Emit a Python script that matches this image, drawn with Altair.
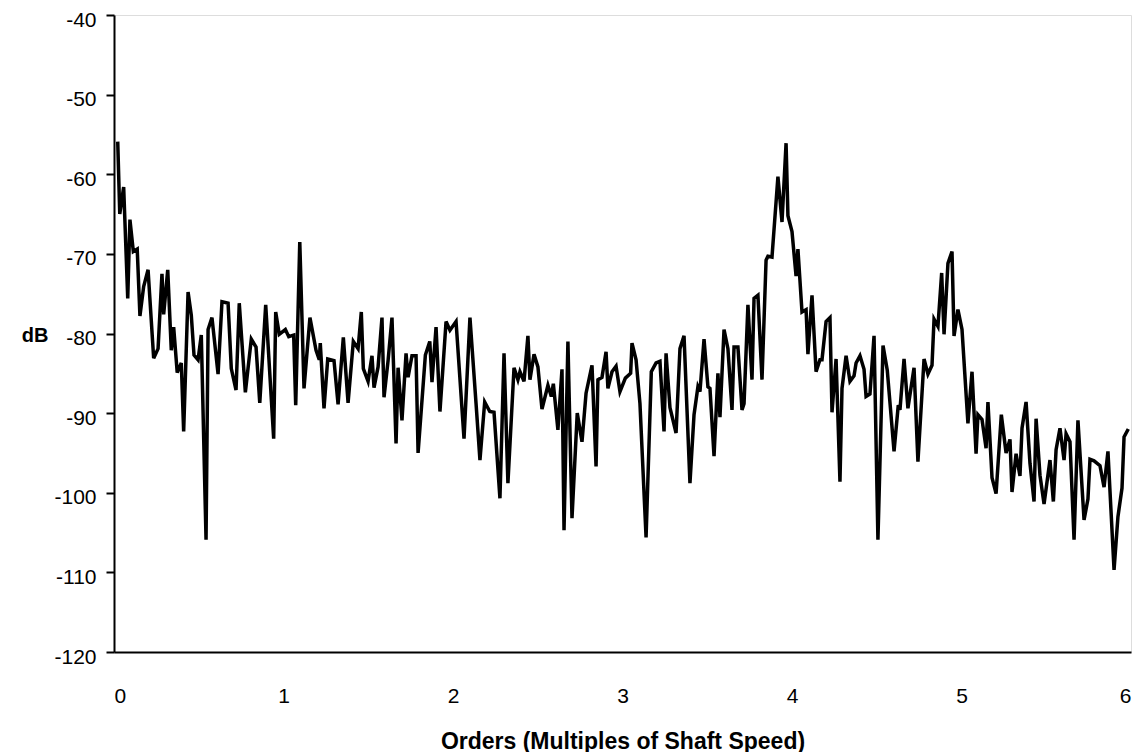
import altair as alt
import pandas as pd

orders = [
    0.022, 0.034, 0.057, 0.081, 0.094, 0.114, 0.137, 0.153, 0.175, 0.201,
    0.234, 0.260, 0.283, 0.293, 0.317, 0.338, 0.352, 0.373, 0.397, 0.411,
    0.437, 0.456, 0.472, 0.496, 0.515, 0.543, 0.555, 0.578, 0.614, 0.637,
    0.673, 0.692, 0.720, 0.739, 0.775, 0.810, 0.838, 0.860, 0.895, 0.942,
    0.954, 0.975, 1.011, 1.031, 1.060, 1.072, 1.096, 1.121, 1.156, 1.192,
    1.211, 1.217, 1.239, 1.261, 1.298, 1.322, 1.353, 1.381, 1.412, 1.440,
    1.459, 1.471, 1.499, 1.522, 1.534, 1.558, 1.581, 1.593, 1.617, 1.640,
    1.664, 1.676, 1.699, 1.723, 1.735, 1.758, 1.782, 1.794, 1.837, 1.863,
    1.876, 1.900, 1.923, 1.959, 1.982, 2.018, 2.065, 2.100, 2.136, 2.159,
    2.187, 2.217, 2.242, 2.277, 2.301, 2.324, 2.360, 2.383, 2.395, 2.419,
    2.442, 2.454, 2.478, 2.501, 2.525, 2.560, 2.580, 2.592, 2.619, 2.643,
    2.655, 2.678, 2.702, 2.733, 2.761, 2.785, 2.820, 2.844, 2.855, 2.879,
    2.903, 2.914, 2.938, 2.962, 2.985, 3.017, 3.048, 3.056, 3.080, 3.103,
    3.139, 3.170, 3.198, 3.221, 3.245, 3.257, 3.280, 3.316, 3.339, 3.363,
    3.398, 3.422, 3.445, 3.457, 3.481, 3.504, 3.516, 3.540, 3.563, 3.575,
    3.599, 3.622, 3.646, 3.658, 3.681, 3.705, 3.717, 3.740, 3.764, 3.776,
    3.799, 3.823, 3.847, 3.858, 3.882, 3.917, 3.941, 3.965, 3.976, 4.000,
    4.024, 4.035, 4.059, 4.083, 4.094, 4.118, 4.142, 4.165, 4.177, 4.201,
    4.224, 4.236, 4.260, 4.283, 4.295, 4.319, 4.342, 4.366, 4.378, 4.401,
    4.425, 4.437, 4.460, 4.484, 4.507, 4.537, 4.562, 4.602, 4.627, 4.637,
    4.661, 4.684, 4.720, 4.743, 4.779, 4.802, 4.826, 4.838, 4.861, 4.883,
    4.897, 4.920, 4.944, 4.956, 4.979, 5.003, 5.038, 5.062, 5.086, 5.097,
    5.121, 5.145, 5.156, 5.180, 5.204, 5.235, 5.263, 5.286, 5.298, 5.322,
    5.345, 5.357, 5.381, 5.404, 5.428, 5.440, 5.463, 5.487, 5.522, 5.542,
    5.558, 5.581, 5.605, 5.617, 5.640, 5.664, 5.687, 5.723, 5.746, 5.758,
    5.782, 5.817, 5.841, 5.864, 5.900, 5.923, 5.947, 5.959, 5.984,
]

db = [
    -55.9, -65.0, -61.6, -75.6, -65.7, -69.7, -69.4, -77.8, -74.1, -72.0,
    -83.1, -81.9, -72.5, -77.6, -72.0, -82.1, -79.2, -84.9, -83.7, -92.3,
    -74.8, -77.7, -82.7, -83.3, -80.2, -105.9, -79.5, -78.0, -85.1, -76.0,
    -76.2, -84.4, -87.1, -76.2, -87.4, -80.7, -81.7, -88.7, -76.4, -93.2,
    -77.3, -80.1, -79.5, -80.4, -80.2, -89.0, -68.5, -86.9, -78.0, -82.1,
    -83.3, -81.2, -89.4, -83.2, -83.4, -88.9, -80.5, -88.7, -81.0, -81.9,
    -77.3, -84.4, -86.0, -82.8, -86.8, -84.2, -78.0, -88.0, -83.4, -78.0,
    -93.8, -84.3, -90.9, -82.5, -85.5, -82.8, -82.8, -95.0, -82.7, -81.0,
    -86.1, -79.2, -89.8, -78.5, -79.6, -78.5, -93.2, -78.0, -88.8, -95.9,
    -88.6, -89.8, -89.9, -100.7, -82.5, -98.8, -84.3, -85.8, -84.8, -86.0,
    -80.3, -85.8, -82.6, -84.2, -89.5, -86.5, -87.9, -86.3, -92.1, -84.5,
    -104.7, -81.0, -103.2, -90.0, -93.6, -87.5, -84.0, -96.7, -85.8, -85.5,
    -82.3, -86.9, -84.8, -84.1, -87.3, -85.6, -85.0, -81.2, -83.3, -88.8,
    -105.6, -84.8, -83.7, -83.5, -92.3, -82.5, -89.3, -92.5, -81.9, -80.3,
    -98.8, -90.2, -86.7, -87.3, -80.7, -86.7, -86.9, -95.4, -85.0, -90.5,
    -79.5, -81.9, -89.6, -81.7, -81.7, -89.6, -88.8, -76.4, -85.8, -75.6,
    -75.2, -85.8, -70.8, -70.3, -70.4, -60.3, -66.0, -56.1, -65.2, -67.2,
    -72.8, -69.4, -77.3, -77.0, -82.6, -75.2, -84.8, -83.3, -83.3, -78.5,
    -78.0, -89.9, -83.2, -98.6, -86.9, -82.8, -86.0, -85.3, -83.7, -82.8,
    -84.5, -87.9, -87.6, -80.3, -105.9, -81.5, -84.6, -94.8, -89.0, -89.6,
    -83.2, -89.4, -84.3, -96.1, -83.2, -85.1, -84.0, -78.2, -79.1, -72.4,
    -80.1, -71.2, -69.7, -80.3, -77.0, -79.5, -91.3, -84.8, -95.1, -90.2,
    -90.8, -94.4, -88.6, -98.1, -100.1, -90.2, -95.0, -93.3, -99.9, -95.1,
    -97.9, -91.9, -88.6, -96.3, -101.1, -90.7, -97.8, -101.4, -95.9, -101.1,
    -94.6, -91.9, -95.9, -92.6, -93.6, -105.9, -90.9, -103.4, -100.8, -95.8,
    -96.0, -96.6, -99.3, -94.8, -109.7, -103.0, -99.4, -93.0, -92.0,
]

x_ticks = [0, 1, 2, 3, 4, 5, 6]
y_ticks = [-120, -110, -100, -90, -80, -70, -60, -50, -40]

df = pd.DataFrame({"order": orders, "db": db})

FONT = "Liberation Sans"

chart = (
    alt.Chart(df)
    .mark_line(color="black", strokeWidth=3.5, strokeJoin="miter", clip=True)
    .encode(
        x=alt.X(
            "order:Q",
            scale=alt.Scale(domain=[0, 6], nice=False, zero=False),
            axis=alt.Axis(
                values=x_ticks,
                title="Orders (Multiples of Shaft Speed)",
                grid=False,
                ticks=False,
                domain=True,
                domainColor="black",
                domainWidth=2,
                labelPadding=33,
                labelFont=FONT,
                labelFontSize=21,
                labelColor="black",
                labelExpr="'' + datum.value",
                titleFont=FONT,
                titleFontSize=23,
                titleFontWeight="bold",
                titleColor="black",
                titlePadding=24,
            ),
        ),
        y=alt.Y(
            "db:Q",
            scale=alt.Scale(domain=[-120, -40], nice=False, zero=False),
            axis=alt.Axis(
                values=y_ticks,
                title="dB",
                grid=False,
                ticks=True,
                tickSize=8,
                tickWidth=2,
                tickColor="black",
                domain=True,
                domainColor="black",
                domainWidth=2,
                labelPadding=10,
                labelFont=FONT,
                labelFontSize=21,
                labelColor="black",
                labelBaseline="middle",
                labelOffset=5,
                labelExpr="'' + datum.value",
                titleFont=FONT,
                titleFontSize=20,
                titleFontWeight="bold",
                titleColor="black",
                titleAngle=0,
                titleAlign="right",
                titleBaseline="middle",
                titleX=-66,
                titleY=320,
            ),
        ),
    )
    .properties(
        width=1017,
        height=637,
        autosize=alt.AutoSizeParams(type="none"),
        padding={"left": 106, "top": 7, "right": 4, "bottom": 100},
    )
    .configure_view(stroke="black", strokeWidth=2)
    .configure(background="white")
)

chart.save("out.html", embed_options={"renderer": "svg", "actions": False})
